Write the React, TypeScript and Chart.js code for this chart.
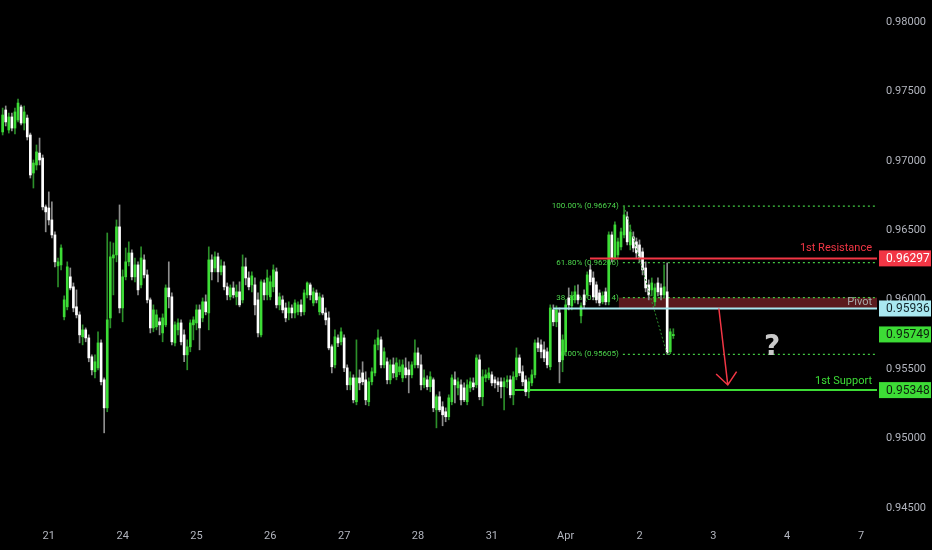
import React, { useEffect, useRef } from "react";
import { Chart, registerables } from "chart.js";

Chart.register(...registerables);

// ---------- DATA ----------
// hourly candles, index 0 = start of day "21"
const firstIndex = -15;
// [open, high, low, close]
const ohlc: [number, number, number, number][] = [
  [0.97208, 0.9738, 0.97186, 0.9733],
  [0.97366, 0.97395, 0.97251, 0.9728],
  [0.97222, 0.97344, 0.972, 0.97316],
  [0.97316, 0.97344, 0.97215, 0.97236],
  [0.97236, 0.9738, 0.97193, 0.97352],
  [0.97294, 0.97445, 0.9728, 0.97416],
  [0.97388, 0.97402, 0.97258, 0.97272],
  [0.97272, 0.97395, 0.97222, 0.97352],
  [0.97308, 0.9733, 0.9715, 0.97172],
  [0.97186, 0.972, 0.96876, 0.96898],
  [0.96912, 0.97006, 0.96804, 0.96984],
  [0.9697, 0.97114, 0.96934, 0.97064],
  [0.97056, 0.97164, 0.9697, 0.97006],
  [0.9702, 0.97042, 0.96646, 0.96668],
  [0.96668, 0.96682, 0.96488, 0.96632],
  [0.9666, 0.96776, 0.96538, 0.96574],
  [0.96574, 0.96704, 0.96444, 0.96466],
  [0.96466, 0.96488, 0.96236, 0.96272],
  [0.96243, 0.963, 0.96092, 0.96272],
  [0.9625, 0.96394, 0.96214, 0.96372],
  [0.95876, 0.96027, 0.95854, 0.95998],
  [0.95948, 0.96272, 0.95926, 0.96236],
  [0.96164, 0.96228, 0.9607, 0.96084],
  [0.96092, 0.9612, 0.95912, 0.9594],
  [0.95948, 0.9607, 0.95868, 0.9589],
  [0.9589, 0.95912, 0.95688, 0.95746],
  [0.95732, 0.95818, 0.95674, 0.95782],
  [0.95782, 0.95796, 0.95696, 0.95724],
  [0.95724, 0.95746, 0.95552, 0.9558],
  [0.95588, 0.95602, 0.95458, 0.95494],
  [0.9548, 0.95602, 0.95436, 0.95552],
  [0.95508, 0.95768, 0.95494, 0.95688],
  [0.95688, 0.9571, 0.95386, 0.95408],
  [0.95422, 0.95436, 0.9504, 0.9522],
  [0.9522, 0.9648, 0.95192, 0.95854],
  [0.95868, 0.96416, 0.95796, 0.96308],
  [0.963, 0.96408, 0.96034, 0.96322],
  [0.96322, 0.96574, 0.96272, 0.96524],
  [0.96524, 0.96682, 0.95904, 0.9594],
  [0.9594, 0.96214, 0.9584, 0.96164],
  [0.96164, 0.96372, 0.96142, 0.96272],
  [0.96272, 0.96416, 0.96243, 0.96336],
  [0.96336, 0.96358, 0.96142, 0.96164],
  [0.96164, 0.963, 0.96128, 0.9625],
  [0.9625, 0.96272, 0.96034, 0.9607],
  [0.96106, 0.9638, 0.96084, 0.963],
  [0.96286, 0.96322, 0.96156, 0.96178],
  [0.96178, 0.96214, 0.95976, 0.95998],
  [0.95998, 0.96012, 0.9576, 0.95796],
  [0.95796, 0.95962, 0.95768, 0.95926],
  [0.95804, 0.95926, 0.95782, 0.9589],
  [0.9584, 0.95868, 0.95746, 0.95818],
  [0.9576, 0.95897, 0.95696, 0.95868],
  [0.95818, 0.96106, 0.95804, 0.96084],
  [0.96084, 0.96272, 0.9594, 0.9602],
  [0.9602, 0.96048, 0.95674, 0.95696],
  [0.95688, 0.9584, 0.95667, 0.95818],
  [0.95782, 0.95861, 0.95746, 0.95832],
  [0.95832, 0.95854, 0.95674, 0.95696],
  [0.95746, 0.95782, 0.95552, 0.95602],
  [0.95602, 0.9571, 0.95494, 0.9566],
  [0.9566, 0.95854, 0.95624, 0.95832],
  [0.95818, 0.95876, 0.9571, 0.95854],
  [0.95832, 0.95962, 0.95782, 0.95926],
  [0.95926, 0.95962, 0.95638, 0.95796],
  [0.95868, 0.96012, 0.9584, 0.95984],
  [0.95984, 0.96034, 0.9589, 0.95912],
  [0.95904, 0.9638, 0.95782, 0.96286],
  [0.96286, 0.96322, 0.96142, 0.962],
  [0.96228, 0.96344, 0.962, 0.96308],
  [0.96308, 0.96336, 0.96128, 0.962],
  [0.962, 0.96286, 0.96178, 0.96243],
  [0.96243, 0.96272, 0.9607, 0.96092],
  [0.96092, 0.9612, 0.95998, 0.96034],
  [0.9602, 0.96106, 0.95998, 0.96084],
  [0.96084, 0.96128, 0.96012, 0.96034],
  [0.9602, 0.96106, 0.95962, 0.96056],
  [0.96056, 0.96128, 0.95948, 0.95962],
  [0.95998, 0.96322, 0.95976, 0.96236],
  [0.96236, 0.963, 0.96106, 0.96156],
  [0.96156, 0.962, 0.9607, 0.96092],
  [0.96106, 0.962, 0.96056, 0.96171],
  [0.96106, 0.96156, 0.9589, 0.95962],
  [0.95998, 0.96048, 0.95732, 0.9576],
  [0.95746, 0.96142, 0.95732, 0.96128],
  [0.9612, 0.96142, 0.95998, 0.96034],
  [0.96034, 0.96214, 0.95998, 0.96156],
  [0.9602, 0.96171, 0.95998, 0.96128],
  [0.96092, 0.9625, 0.96056, 0.96214],
  [0.962, 0.96228, 0.9594, 0.95962],
  [0.95962, 0.96048, 0.95926, 0.9602],
  [0.95998, 0.96027, 0.95904, 0.95926],
  [0.9594, 0.95976, 0.9584, 0.95868],
  [0.95904, 0.95984, 0.95854, 0.9594],
  [0.9594, 0.95962, 0.95868, 0.95904],
  [0.95904, 0.95998, 0.95868, 0.95976],
  [0.95912, 0.95984, 0.9589, 0.95962],
  [0.95962, 0.95998, 0.95883, 0.95912],
  [0.95912, 0.9607, 0.9589, 0.96048],
  [0.96034, 0.96128, 0.96012, 0.9612],
  [0.96106, 0.9612, 0.95998, 0.96034],
  [0.95976, 0.96084, 0.95955, 0.96056],
  [0.96048, 0.9607, 0.95976, 0.95998],
  [0.95912, 0.96048, 0.9589, 0.9602],
  [0.96012, 0.96034, 0.9589, 0.95904],
  [0.95904, 0.9594, 0.95818, 0.95854],
  [0.95868, 0.95912, 0.95638, 0.95652],
  [0.9566, 0.95674, 0.95472, 0.95516],
  [0.9553, 0.95782, 0.95508, 0.95732],
  [0.95724, 0.95746, 0.9566, 0.95688],
  [0.95696, 0.95796, 0.95674, 0.95768],
  [0.95724, 0.95746, 0.9548, 0.95508],
  [0.95508, 0.9553, 0.9535, 0.95386],
  [0.95386, 0.9548, 0.9535, 0.95436],
  [0.95436, 0.95458, 0.95256, 0.95278],
  [0.95264, 0.9571, 0.95242, 0.95436],
  [0.95436, 0.95494, 0.9535, 0.954],
  [0.95472, 0.95552, 0.95386, 0.95408],
  [0.95422, 0.9548, 0.95242, 0.95278],
  [0.95264, 0.95436, 0.95235, 0.95408],
  [0.95408, 0.95508, 0.95386, 0.9548],
  [0.95472, 0.9571, 0.95451, 0.95674],
  [0.95674, 0.95782, 0.95638, 0.95724],
  [0.9571, 0.95732, 0.95508, 0.9553],
  [0.9553, 0.95652, 0.95508, 0.95624],
  [0.95552, 0.9558, 0.95393, 0.95422],
  [0.95422, 0.95566, 0.95393, 0.9553],
  [0.9553, 0.9558, 0.95436, 0.95472],
  [0.95444, 0.9558, 0.95422, 0.95544],
  [0.9548, 0.95566, 0.95458, 0.95516],
  [0.95436, 0.95566, 0.95408, 0.9553],
  [0.95508, 0.9558, 0.95436, 0.95458],
  [0.95494, 0.95552, 0.95328, 0.95458],
  [0.95458, 0.95552, 0.95436, 0.9553],
  [0.9553, 0.9571, 0.95508, 0.95616],
  [0.95616, 0.95652, 0.95508, 0.9553],
  [0.9553, 0.95602, 0.9535, 0.95386],
  [0.95386, 0.95494, 0.95364, 0.95436],
  [0.95422, 0.95451, 0.9535, 0.95372],
  [0.95372, 0.9548, 0.95336, 0.95444],
  [0.95422, 0.95436, 0.95192, 0.9522],
  [0.95206, 0.95314, 0.95076, 0.953],
  [0.953, 0.95336, 0.95192, 0.95206],
  [0.95228, 0.95264, 0.95091, 0.9517],
  [0.95192, 0.9522, 0.9512, 0.95156],
  [0.95156, 0.95314, 0.95134, 0.95292],
  [0.95264, 0.95458, 0.95242, 0.95436],
  [0.95422, 0.9548, 0.95256, 0.95386],
  [0.95364, 0.95436, 0.95314, 0.95408],
  [0.95386, 0.95422, 0.95242, 0.95278],
  [0.95364, 0.954, 0.95264, 0.95278],
  [0.95264, 0.95422, 0.95242, 0.95386],
  [0.95364, 0.95436, 0.95336, 0.95408],
  [0.954, 0.95436, 0.9535, 0.95372],
  [0.95386, 0.95602, 0.95364, 0.9558],
  [0.95566, 0.95602, 0.95278, 0.953],
  [0.953, 0.95494, 0.95235, 0.95444],
  [0.95436, 0.95494, 0.95408, 0.95458],
  [0.95436, 0.95508, 0.95422, 0.95472],
  [0.95458, 0.9548, 0.95379, 0.954],
  [0.95422, 0.95444, 0.95364, 0.954],
  [0.95408, 0.95436, 0.95336, 0.95386],
  [0.95408, 0.95436, 0.95292, 0.95372],
  [0.95372, 0.95436, 0.95206, 0.95408],
  [0.95408, 0.95451, 0.95364, 0.95422],
  [0.95422, 0.95451, 0.95292, 0.95314],
  [0.95314, 0.9548, 0.95242, 0.95444],
  [0.95444, 0.95652, 0.95422, 0.9558],
  [0.9558, 0.95602, 0.95451, 0.95472],
  [0.9548, 0.95523, 0.95379, 0.95408],
  [0.95422, 0.95451, 0.95307, 0.95336],
  [0.95336, 0.95436, 0.95292, 0.95408],
  [0.954, 0.95494, 0.95379, 0.95458],
  [0.95458, 0.9571, 0.95436, 0.95688],
  [0.95688, 0.95724, 0.95624, 0.95652],
  [0.95674, 0.9571, 0.9558, 0.95624],
  [0.95638, 0.95696, 0.95552, 0.9558],
  [0.95624, 0.95652, 0.95508, 0.9553],
  [0.95516, 0.95962, 0.95494, 0.9594],
  [0.95926, 0.95962, 0.95811, 0.9584],
  [0.9584, 0.95955, 0.95804, 0.95926],
  [0.95904, 0.9594, 0.954, 0.95552],
  [0.95566, 0.95746, 0.9548, 0.9571],
  [0.95624, 0.95998, 0.95595, 0.95962],
  [0.96012, 0.96084, 0.95926, 0.95962],
  [0.95955, 0.96056, 0.95926, 0.96027],
  [0.95998, 0.96099, 0.95976, 0.96056],
  [0.96034, 0.96106, 0.95969, 0.95998],
  [0.95883, 0.95976, 0.95832, 0.95955],
  [0.96034, 0.9607, 0.9594, 0.95962],
  [0.96034, 0.962, 0.96012, 0.96178],
  [0.96214, 0.9625, 0.96106, 0.96128],
  [0.96156, 0.962, 0.95998, 0.9602],
  [0.96106, 0.96128, 0.95976, 0.95998],
  [0.96048, 0.9607, 0.95955, 0.95976],
  [0.95984, 0.96056, 0.95969, 0.96027],
  [0.96056, 0.96084, 0.95962, 0.95984],
  [0.95984, 0.96488, 0.95962, 0.96466],
  [0.96466, 0.96488, 0.96272, 0.963],
  [0.963, 0.9656, 0.96286, 0.96538],
  [0.96322, 0.96444, 0.963, 0.96416],
  [0.9638, 0.96516, 0.96358, 0.96488],
  [0.96466, 0.96674, 0.96444, 0.9661],
  [0.96596, 0.96632, 0.96394, 0.96416],
  [0.96394, 0.96538, 0.96358, 0.96488],
  [0.96452, 0.96488, 0.96344, 0.96372],
  [0.96416, 0.96444, 0.963, 0.96336],
  [0.96394, 0.9643, 0.96272, 0.963],
  [0.96344, 0.96372, 0.96178, 0.96214],
  [0.96228, 0.96272, 0.96056, 0.96084],
  [0.96106, 0.96142, 0.95998, 0.96034],
  [0.9607, 0.96156, 0.96027, 0.9612],
  [0.95984, 0.96113, 0.95955, 0.96084],
  [0.9612, 0.96156, 0.96027, 0.96056],
  [0.96084, 0.96113, 0.95998, 0.96034],
  [0.96034, 0.9625, 0.96012, 0.96092],
  [0.96056, 0.96264, 0.95605, 0.95616],
  [0.95624, 0.9579, 0.9561, 0.95768],
  [0.9574, 0.9579, 0.9572, 0.95749],
];

const dayLabels = ["21", "24", "25", "26", "27", "28", "31", "Apr", "2", "3", "4", "7"];
const dayTickIndex = [0, 24, 48, 72, 96, 120, 144, 168, 192, 216, 240, 264];
const yTickValues = [0.945, 0.95, 0.955, 0.96, 0.965, 0.97, 0.975, 0.98];
const xMin = -15.86;
const xMax = 269.2;
const yMin = 0.943977;
const yMax = 0.981585;

const resistance = 0.96297;
const pivot = 0.95936;
const pivotZoneTop = 0.96014;
const support = 0.95348;
const currentPrice = 0.95749;
const resistanceStart = 175.9;
const pivotStart = 163.9;
const pivotZoneStart = 185.3;
const supportStart = 151.5;

const fibPercents = ["100.00%", "61.80%", "38.20%", "0.00%"];
const fibValues = [0.96674, 0.96266, 0.96014, 0.95605];
const fibStart = 186.6;
const fibSwingX = [187, 201];
const fibSwingY = [0.96674, 0.95605];

const arrowX = [217.8, 220.7];
const arrowY = [0.95936, 0.95385];
const questionX = 235.1;
const questionY = 0.95651;

// ---------- COLOURS ----------
const UP = "#3ddc36";
const DOWN = "#ffffff";
const UP_WICK = "#2c8f2a";
const DOWN_WICK = "#8e8e8e";
const RED = "#f23645";
const PIVOT_BLUE = "#a9e8f0";
const GREEN = "#3ddc36";
const FIB = "#43c843";
const AXIS_TEXT = "#b2b5be";

const overlayPlugin = {
  id: "overlay",
  beforeDatasetsDraw(chart: any) {
    const { ctx, chartArea, scales } = chart;
    const x = scales.x;
    const y = scales.y;
    ctx.save();
    const zx = x.getPixelForValue(pivotZoneStart);
    const zt = y.getPixelForValue(pivotZoneTop);
    const zb = y.getPixelForValue(pivot);
    ctx.fillStyle = "#5a1a1d";
    ctx.fillRect(zx, zt, chartArea.right - zx, zb - zt);

    ctx.font = '8px Roboto';
    ctx.fillStyle = "#4cd64c";
    ctx.textAlign = "right";
    ctx.textBaseline = "middle";
    const fx = x.getPixelForValue(fibStart) - 4;
    fibValues.forEach((v, k) => {
      ctx.fillText(`${fibPercents[k]} (${v.toFixed(5)})`, fx, y.getPixelForValue(v));
    });
    ctx.restore();
  },
  afterDatasetsDraw(chart: any) {
    const { ctx, chartArea, scales } = chart;
    const x = scales.x;
    const y = scales.y;
    ctx.save();
    ctx.font = '11px Roboto';
    ctx.textAlign = "right";
    ctx.textBaseline = "middle";
    const rx = chartArea.right - 5;
    ctx.fillStyle = RED;
    ctx.fillText("1st Resistance", rx, y.getPixelForValue(resistance) - 10);
    ctx.fillStyle = "#a9a9a9";
    ctx.fillText("Pivot", rx, (y.getPixelForValue(pivot) + y.getPixelForValue(pivotZoneTop)) / 2 - 1);
    ctx.fillStyle = GREEN;
    ctx.fillText("1st Support", rx, y.getPixelForValue(support) - 9);

    // arrow
    const x0 = x.getPixelForValue(arrowX[0]);
    const y0 = y.getPixelForValue(arrowY[0]);
    const x1 = x.getPixelForValue(arrowX[1]);
    const y1 = y.getPixelForValue(arrowY[1]);
    ctx.strokeStyle = RED;
    ctx.lineWidth = 1.5;
    ctx.beginPath();
    ctx.moveTo(x0, y0);
    ctx.lineTo(x1, y1);
    const ang = Math.atan2(y1 - y0, x1 - x0);
    const len = 16;
    ctx.moveTo(x1 - len * Math.cos(ang - 0.7), y1 - len * Math.sin(ang - 0.7));
    ctx.lineTo(x1, y1);
    ctx.lineTo(x1 - len * Math.cos(ang + 0.7), y1 - len * Math.sin(ang + 0.7));
    ctx.stroke();

    ctx.font = 'bold 28px "DejaVu Sans"';
    ctx.fillStyle = "#c9c9c9";
    ctx.textAlign = "center";
    ctx.fillText("?", x.getPixelForValue(questionX), y.getPixelForValue(questionY));
    ctx.restore();
  },
  afterDraw(chart: any) {
    const { ctx, chartArea, scales, width } = chart;
    const y = scales.y;
    const tags = [
      { v: resistance, bg: RED, fg: "#ffffff" },
      { v: pivot, bg: PIVOT_BLUE, fg: "#13262b" },
      { v: currentPrice, bg: GREEN, fg: "#0d1f0d" },
      { v: support, bg: GREEN, fg: "#0d1f0d" },
    ];
    ctx.save();
    ctx.font = '12px Roboto';
    ctx.textAlign = "left";
    ctx.textBaseline = "middle";
    tags.forEach((t) => {
      const py = y.getPixelForValue(t.v);
      ctx.fillStyle = t.bg;
      ctx.fillRect(chartArea.right + 2, py - 8, width - chartArea.right - 3, 16);
      ctx.fillStyle = t.fg;
      ctx.fillText(t.v.toFixed(5), chartArea.right + 9, py + 0.5);
    });
    ctx.restore();
  },
};

export default function App() {
  const canvasRef = useRef<HTMLCanvasElement | null>(null);

  useEffect(() => {
    document.body.style.margin = "0";
    document.body.style.background = "#000";
    const canvas = canvasRef.current;
    if (!canvas) return;

    const idx = ohlc.map((_, k) => firstIndex + k);
    const up = ohlc.map((c) => c[3] >= c[0]);

    const wickData = ohlc.map((c, k) => ({ x: idx[k], y: [c[2], c[1]] }));
    const bodyData = ohlc.map((c, k) => ({ x: idx[k], y: [c[0], c[3]] }));

    const hLine = (start: number, v: number) => [
      { x: start, y: v },
      { x: xMax, y: v },
    ];

    const chart = new Chart(canvas, {
      type: "bar",
      data: {
        datasets: [
          {
            type: "line",
            label: "support",
            data: hLine(supportStart, support),
            borderColor: GREEN,
            borderWidth: 2,
            pointRadius: 0,
            order: 20,
          } as any,
          ...fibValues.map(
            (v) =>
              ({
                type: "line",
                label: "fib",
                data: hLine(fibStart, v),
                borderColor: FIB,
                borderWidth: 1.2,
                borderDash: [2, 3],
                pointRadius: 0,
                order: 15,
              } as any)
          ),
          {
            type: "bar",
            label: "wicks",
            data: wickData,
            backgroundColor: up.map((u) => (u ? UP_WICK : DOWN_WICK)),
            barThickness: 1,
            grouped: false,
            borderWidth: 0,
            order: 10,
          } as any,
          {
            type: "bar",
            label: "bodies",
            data: bodyData,
            backgroundColor: up.map((u) => (u ? UP : DOWN)),
            barThickness: 2,
            grouped: false,
            borderWidth: 0,
            minBarLength: 1,
            order: 9,
          } as any,
          {
            type: "line",
            label: "fibSwing",
            data: fibSwingX.map((xv, k) => ({ x: xv, y: fibSwingY[k] })),
            borderColor: "#2f8f2f",
            borderWidth: 1,
            borderDash: [2, 2],
            pointRadius: 0,
            order: 3,
          } as any,
          {
            type: "line",
            label: "pivot",
            data: hLine(pivotStart, pivot),
            borderColor: PIVOT_BLUE,
            borderWidth: 2,
            pointRadius: 0,
            order: 2,
          } as any,
          {
            type: "line",
            label: "resistance",
            data: hLine(resistanceStart, resistance),
            borderColor: RED,
            borderWidth: 2,
            pointRadius: 0,
            order: 1,
          } as any,
        ],
      },
      options: {
        animation: false,
        responsive: false,
        devicePixelRatio: 1,
        events: [],
        layout: { padding: 0 },
        plugins: {
          legend: { display: false },
          tooltip: { enabled: false },
        },
        scales: {
          x: {
            type: "linear",
            min: xMin,
            max: xMax,
            offset: false,
            grid: { display: false, drawTicks: false },
            border: { display: false },
            afterBuildTicks: (scale: any) => {
              scale.ticks = dayTickIndex.map((v) => ({ value: v }));
            },
            afterFit: (scale: any) => {
              scale.height = 28;
              scale.paddingLeft = 0;
              scale.paddingRight = 0;
            },
            ticks: {
              autoSkip: false,
              maxRotation: 0,
              padding: 8,
              color: AXIS_TEXT,
              font: { family: "Roboto", size: 11 },
              callback: (value: any) => {
                const k = dayTickIndex.indexOf(Number(value));
                return k >= 0 ? dayLabels[k] : "";
              },
            },
          },
          y: {
            type: "linear",
            position: "right",
            min: yMin,
            max: yMax,
            grid: { display: false, drawTicks: false },
            border: { display: false },
            afterBuildTicks: (scale: any) => {
              scale.ticks = yTickValues.map((v) => ({ value: v }));
            },
            afterFit: (scale: any) => {
              scale.width = 55;
              scale.paddingTop = 0;
              scale.paddingBottom = 0;
            },
            ticks: {
              padding: 9,
              color: AXIS_TEXT,
              font: { family: "Roboto", size: 11 },
              callback: (value: any) => Number(value).toFixed(5),
            },
          },
        },
      } as any,
      plugins: [overlayPlugin],
    });

    return () => {
      chart.destroy();
    };
  }, []);

  return (
    <div style={{ position: "fixed", left: 0, top: 0, width: 932, height: 550, background: "#000" }}>
      <canvas ref={canvasRef} width={932} height={550} style={{ display: "block" }} />
    </div>
  );
}
